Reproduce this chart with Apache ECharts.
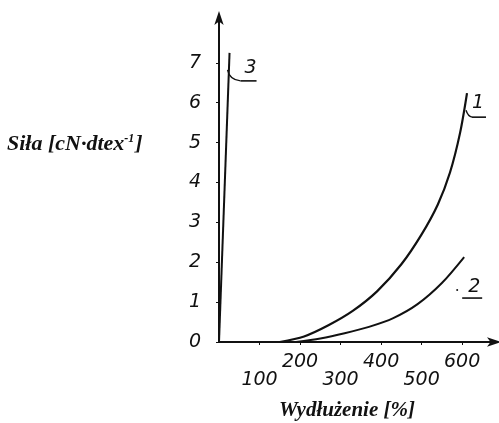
<!DOCTYPE html>
<html>
<head>
<meta charset="utf-8">
<script src="https://cdn.jsdelivr.net/npm/echarts@6/dist/echarts.min.js"></script>
<style>
  html, body { margin: 0; padding: 0; background: #fff; }
  #chart { width: 499px; height: 423px; }
</style>
</head>
<body>
<div id="chart"></div>
<script>
// tick labels
const xTicks = [100, 200, 300, 400, 500, 600];
const yTicks = [0, 1, 2, 3, 4, 5, 6, 7];

// curve 1
const curve1X = [150, 210, 270, 330, 390, 450, 500, 540, 570, 595, 612];
const curve1Y = [0, 0.14, 0.42, 0.78, 1.27, 1.95, 2.70, 3.45, 4.25, 5.25, 6.24];
// curve 2
const curve2X = [190, 250, 310, 370, 430, 490, 550, 605];
const curve2Y = [0, 0.09, 0.22, 0.38, 0.60, 0.95, 1.48, 2.13];
// curve 3
const curve3X = [0, 26];
const curve3Y = [0, 7.25];

const ink = '#111';
const numFont = 'DejaVu Sans';
const titleFont = 'Liberation Serif';

function pairs(xs, ys) {
    return xs.map((x, i) => [x, ys[i]]);
}

const chart = echarts.init(document.getElementById('chart'));

const option = {
    animation: false,
    grid: { left: 219, right: 2, top: 15, bottom: 81 },
    xAxis: {
        type: 'value',
        min: 0,
        max: 686,
        splitLine: { show: false },
        axisLine: {
            lineStyle: { color: ink, width: 2 },
            symbol: ['none', 'arrow'],
            symbolSize: [7, 14],
            symbolOffset: [0, 4]
        },
        axisTick: { show: true, length: 3, customValues: xTicks, lineStyle: { color: ink } },
        axisLabel: {
            customValues: xTicks,
            margin: 11,
            color: ink,
            fontFamily: numFont,
            fontStyle: 'italic',
            fontSize: 19,
            formatter: v => (v % 200 === 0 ? '{a|' + v + '}' : '{b|' + v + '}'),
            rich: {
                a: { fontFamily: numFont, fontStyle: 'italic', fontSize: 19, color: ink },
                b: { fontFamily: numFont, fontStyle: 'italic', fontSize: 19, color: ink, padding: [18, 0, 0, 0] }
            }
        }
    },
    yAxis: {
        type: 'value',
        min: 0,
        max: 8.2,
        splitLine: { show: false },
        axisLine: {
            show: true,
            lineStyle: { color: ink, width: 2 },
            symbol: ['none', 'arrow'],
            symbolSize: [7, 14],
            symbolOffset: [0, 4]
        },
        axisTick: { show: true, length: 3, customValues: yTicks, lineStyle: { color: ink } },
        axisLabel: {
            customValues: yTicks,
            margin: 18,
            color: ink,
            fontFamily: numFont,
            fontStyle: 'italic',
            fontSize: 19
        }
    },
    series: [
        {
            name: '1',
            type: 'line',
            data: pairs(curve1X, curve1Y),
            smooth: 0.3,
            showSymbol: false,
            lineStyle: { color: ink, width: 2.2 }
        },
        {
            name: '2',
            type: 'line',
            data: pairs(curve2X, curve2Y),
            smooth: 0.3,
            showSymbol: false,
            lineStyle: { color: ink, width: 2 }
        },
        {
            name: '3',
            type: 'line',
            data: pairs(curve3X, curve3Y),
            showSymbol: false,
            lineStyle: { color: ink, width: 2 }
        }
    ]
};

chart.setOption(option);

// curve numbers with their little leader lines, placed from the curve ends
function endPixel(xs, ys) {
    const n = xs.length - 1;
    return chart.convertToPixel({ gridIndex: 0 }, [xs[n], ys[n]]);
}

function numText(txt, x, y) {
    return {
        type: 'text',
        x: x, y: y,
        style: {
            text: txt, fill: ink, fontFamily: numFont, fontStyle: 'italic', fontSize: 19,
            align: 'center', verticalAlign: 'middle'
        }
    };
}

function seg(x1, y1, x2, y2) {
    return { type: 'line', shape: { x1, y1, x2, y2 }, style: { stroke: ink, lineWidth: 1.6 } };
}

function leader(x1, y1, x2, y2) {
    return {
        type: 'bezierCurve',
        shape: { x1, y1, x2, y2, cpx1: x1 + 2, cpy1: y2 - 1 },
        style: { stroke: ink, lineWidth: 1.4, fill: null }
    };
}

const p1 = endPixel(curve1X, curve1Y);
const p2 = endPixel(curve2X, curve2Y);
const p3 = endPixel(curve3X, curve3Y);

chart.setOption({
    graphic: [
        // 3
        leader(p3[0] - 2, p3[1] + 17, p3[0] + 11, p3[1] + 28),
        seg(p3[0] + 11, p3[1] + 28, p3[0] + 27, p3[1] + 28),
        numText('3', p3[0] + 21, p3[1] + 15),
        // 1
        leader(p1[0] - 1, p1[1] + 17, p1[0] + 5, p1[1] + 24),
        seg(p1[0] + 5, p1[1] + 24, p1[0] + 19, p1[1] + 24),
        numText('1', p1[0] + 11, p1[1] + 10),
        // 2
        seg(p2[0] - 2, p2[1] + 41, p2[0] + 18, p2[1] + 41),
        numText('2', p2[0] + 10, p2[1] + 30),
        { type: 'circle', shape: { cx: p2[0] - 7, cy: p2[1] + 33, r: 1 }, style: { fill: ink } },
        // axis titles
        {
            type: 'text',
            left: 7,
            top: 133,
            style: {
                text: '{a|Siła [cN·dtex}{s|-1}{a|]}',
                rich: {
                    a: { fontFamily: titleFont, fontStyle: 'italic', fontWeight: 'bold', fontSize: 22, fill: ink },
                    s: { fontFamily: titleFont, fontStyle: 'italic', fontWeight: 'bold', fontSize: 12, fill: ink, padding: [0, 1, 10, 0] }
                }
            }
        },
        {
            type: 'text',
            x: 347,
            y: 411,
            style: {
                text: 'Wydłużenie [%]',
                fill: ink,
                fontFamily: titleFont,
                fontStyle: 'italic',
                fontWeight: 'bold',
                fontSize: 21,
                align: 'center',
                verticalAlign: 'middle'
            }
        }
    ]
});
</script>
</body>
</html>
